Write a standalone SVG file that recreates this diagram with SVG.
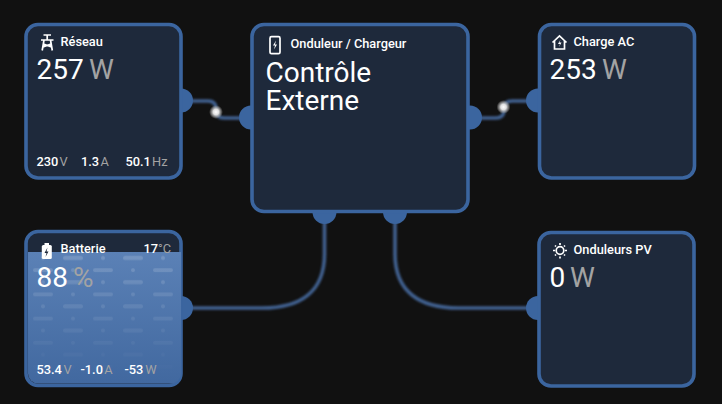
<svg xmlns="http://www.w3.org/2000/svg" width="722" height="404" viewBox="0 0 722 404">
<style>
text{font-family:Roboto,"Liberation Sans",sans-serif;fill:#fff}
.card{fill:#1e293b;stroke:#3b659f;stroke-width:3.6}
.title{font-size:12.8px;font-weight:500}
.big{font-size:28px}
.sm{font-size:12.8px;font-weight:500}
.u{fill:#a3a3a3;font-weight:400}
.port{fill:#3b659f}
.wire{fill:none;stroke:#41608f;stroke-width:3.6}
.ic{fill:none;stroke:#fff;stroke-width:1.7}
</style>
<defs>
<filter id="soft" x="-10%" y="-10%" width="120%" height="120%"><feGaussianBlur stdDeviation="0.8"/></filter>
<filter id="softer" x="-5%" y="-5%" width="110%" height="110%"><feGaussianBlur stdDeviation="0.6"/></filter>
<pattern id="dots" width="60" height="24.2" patternUnits="userSpaceOnUse" x="33" y="251.800">
<rect x="0" y="16.400" width="20" height="4" rx="2" fill="#fff" fill-opacity=".17"/>
<circle cx="40" cy="18.400" r="2" fill="#fff" fill-opacity=".17"/>
<rect x="30" y="4.200" width="20" height="4" rx="2" fill="#fff" fill-opacity=".17"/>
<circle cx="10" cy="6.200" r="2" fill="#fff" fill-opacity=".17"/>
</pattern>
<linearGradient id="fade" x1="0" y1="252" x2="0" y2="375" gradientUnits="userSpaceOnUse">
<stop offset="0" stop-color="#fff"/><stop offset="1" stop-color="#000"/>
</linearGradient>
<mask id="m" maskUnits="userSpaceOnUse" x="20" y="250" width="170" height="140"><rect x="20" y="250" width="170" height="140" fill="url(#fade)"/></mask>
<linearGradient id="bat" x1="0" y1="252" x2="0" y2="385" gradientUnits="userSpaceOnUse">
<stop offset="0" stop-color="#5b81b6"/><stop offset="1" stop-color="#41689f"/>
</linearGradient>
<clipPath id="bc"><rect x="28" y="233.500" width="153" height="150" rx="10"/></clipPath>
<radialGradient id="spark"><stop offset="0" stop-color="#fff"/><stop offset=".4" stop-color="#e0e0e0"/><stop offset=".75" stop-color="#aaa" stop-opacity=".55"/><stop offset="1" stop-color="#888" stop-opacity="0"/></radialGradient>
</defs>
<rect width="722" height="404" fill="#111"/>
<g id="connectors">
<g filter="url(#soft)">
<path class="wire" d="M180 101H208Q216 101 216 109V110Q216 118 224 118H250"/>
<path class="wire" d="M470 118H496Q504 118 504 110V109Q504 101 512 101H538"/>
<path class="wire" d="M324.500 212V254C324.500 292 300 308 262 308H180"/>
<path class="wire" d="M395 212V254C395 292 420 308 458 308H538"/>
</g>
<circle cx="216" cy="112" r="7" fill="url(#spark)"/>
<circle cx="503.500" cy="107" r="7" fill="url(#spark)"/>
</g>
<g id="grid">
<circle class="port" cx="181" cy="100.500" r="12"/>
<rect class="card" x="26" y="24.500" width="155" height="153.500" rx="12"/>
<path d="M43.500 35h7.500M41 40h12.500M47.200 35v5M44 40l-1.800 10.500M50.500 40l1.800 10.500M43 47l8-3M51.500 47l-8-3" class="ic" stroke-width="1.400"/>
<text class="title" x="60.500" y="46">Réseau</text>
<text class="big" x="36.500" y="79">257</text><text class="big u" x="89" y="79">W</text>
<text class="sm" x="36.500" y="166">230</text><text class="sm u" x="59.500" y="166">V</text>
<text class="sm" x="81" y="166">1.3</text><text class="sm u" x="100.500" y="166">A</text>
<text class="sm" x="125.500" y="166">50.1</text><text class="sm u" x="152" y="166">Hz</text>
</g>
<g id="inverter">
<circle class="port" cx="251" cy="117.500" r="12"/><circle class="port" cx="470" cy="117.500" r="12"/>
<circle class="port" cx="324.500" cy="212" r="12"/><circle class="port" cx="395" cy="212" r="12"/>
<rect class="card" x="252" y="24.500" width="216" height="187" rx="12"/>
<rect x="270" y="36.700" width="10" height="17" rx="1.500" class="ic" stroke-width="2"/>
<path d="M276 40.500l-3 5h2l-1 4 3-5h-2z" fill="#fff"/>
<text class="title" x="290.500" y="48">Onduleur / Chargeur</text>
<text class="big" x="265.500" y="82">Contrôle</text>
<text class="big" x="265.500" y="109.500">Externe</text>
</g>
<g id="load">
<circle class="port" cx="538" cy="100.500" r="12"/>
<rect class="card" x="539.500" y="24.500" width="155" height="153.500" rx="12"/>
<path d="M552.500 42.500l7-6.500 7 6.500M554.500 41v8h10v-8" class="ic"/>
<path d="M560.500 39.500l-2.500 4.500h2l-1 3 2.500-4.500h-2z" fill="#fff"/>
<text class="title" x="573.500" y="46">Charge AC</text>
<text class="big" x="549.500" y="79">253</text><text class="big u" x="602" y="79">W</text>
</g>
<g id="battery">
<circle class="port" cx="181" cy="308" r="12"/>
<rect class="card" x="26" y="231.500" width="155" height="154" rx="12"/>
<g clip-path="url(#bc)">
<rect x="24" y="252" width="158" height="136" fill="url(#bat)"/>
<rect x="24" y="252" width="158" height="136" fill="url(#dots)" mask="url(#m)" filter="url(#softer)"/>
</g>
<rect x="41.800" y="245" width="10" height="14" rx="1.500" fill="#fff"/><rect x="44.500" y="243" width="4.500" height="3" fill="#fff"/>
<path d="M47.500 247.500l-3 5.500h2l-1 4 3-5.500h-2z" fill="#1e293b"/>
<text class="title" x="60.500" y="253">Batterie</text>
<text class="sm" x="143.500" y="253">17</text><text class="sm u" x="158" y="253">°C</text>
<text class="big" x="36.500" y="287">88</text><text class="big u" x="73" y="287">%</text>
<text class="sm" x="36.500" y="374">53.4</text><text class="sm u" x="63.500" y="374">V</text>
<text class="sm" x="80.500" y="374">-1.0</text><text class="sm u" x="104.300" y="374">A</text>
<text class="sm" x="124.500" y="374">-53</text><text class="sm u" x="145.300" y="374">W</text>
</g>
<g id="pv">
<circle class="port" cx="538" cy="308" r="12"/>
<rect class="card" x="539" y="232.500" width="155" height="153.500" rx="12"/>
<circle cx="560" cy="250.500" r="3.800" class="ic"/>
<path d="M560 243v2M560 256.500v2M553 250.500h2M565 250.500h2M555 245.500l1 1M564 254.500l1 1M555 255.500l1-1M564 246.500l1-1" class="ic" stroke-width="1.400"/>
<text class="title" x="573.500" y="254">Onduleurs PV</text>
<text class="big" x="549.500" y="287">0</text><text class="big u" x="570" y="287">W</text>
</g>
</svg>
